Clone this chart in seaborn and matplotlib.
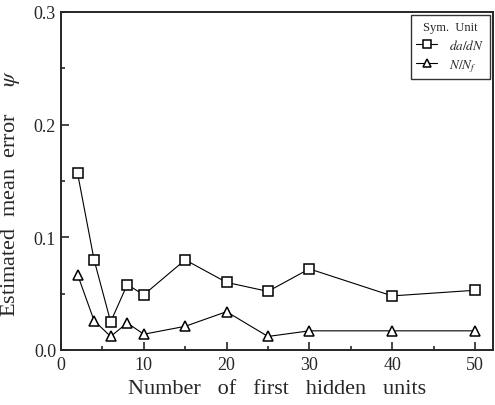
import numpy as np
import pandas as pd
import matplotlib
matplotlib.use("Agg")
import matplotlib.pyplot as plt
import seaborn as sns
from matplotlib.ticker import MultipleLocator, FormatStrFormatter

# data
hidden_units = [2, 4, 6, 8, 10, 15, 20, 25, 30, 40, 50]
err_dadn = [0.157, 0.080, 0.025, 0.058, 0.049, 0.080, 0.060, 0.052, 0.072, 0.048, 0.053]
err_nnf = [0.067, 0.026, 0.012, 0.024, 0.014, 0.021, 0.034, 0.012, 0.017, 0.017, 0.017]
series_labels = ["$da/dN$", "$N/N_f$"]

df = pd.DataFrame({
    "units": hidden_units * 2,
    "err": err_dadn + err_nnf,
    "series": [series_labels[0]] * len(hidden_units) + [series_labels[1]] * len(hidden_units),
})

sns.set_style("ticks")
plt.rcParams["font.family"] = ["Liberation Serif", "DejaVu Serif"]
plt.rcParams["mathtext.fontset"] = "stix"

fig = plt.figure(figsize=(4.95, 4.06), dpi=100)
ax = fig.add_axes([0.1232, 0.1355, 0.873, 0.8325])

sns.lineplot(data=df, x="units", y="err", hue="series", style="series",
             markers={series_labels[0]: "s", series_labels[1]: "^"},
             dashes=False, palette=["black", "black"], linewidth=0.8,
             markersize=7, markerfacecolor="white", markeredgecolor="black",
             markeredgewidth=1.1, ax=ax)

ax.set_xlim(0, 52.2)
ax.set_ylim(0, 0.3)
ax.xaxis.set_major_locator(MultipleLocator(10))
ax.xaxis.set_minor_locator(MultipleLocator(5))
ax.yaxis.set_major_locator(MultipleLocator(0.1))
ax.yaxis.set_minor_locator(MultipleLocator(0.05))
ax.yaxis.set_major_formatter(FormatStrFormatter("%.1f"))
ax.tick_params(which="both", direction="in", labelsize=13, width=1.2)
ax.tick_params(which="major", length=6)
ax.tick_params(which="minor", length=3)
ax.tick_params(axis="x", pad=4)
for s in ax.spines.values():
    s.set_linewidth(1.4)

ax.set_xlabel("Number   of   first   hidden   units", fontsize=16)
ax.xaxis.set_label_coords(0.5, -0.115)
ax.xaxis.label.set_va("center")
ax.set_ylabel("Estimated  mean  error     $\\psi$", fontsize=16)
ax.yaxis.set_label_coords(-0.090, 0.467)

leg = ax.legend(title="Sym.  Unit", loc="upper right", fontsize=9.5, title_fontsize=9,
                frameon=True, fancybox=False, edgecolor="black",
                handlelength=1.6, handletextpad=0.9, borderpad=0.4,
                labelspacing=0.4, markerscale=0.75, borderaxespad=0.25)
leg.get_frame().set_linewidth(1.0)

fig.savefig("out.png", dpi=100)
